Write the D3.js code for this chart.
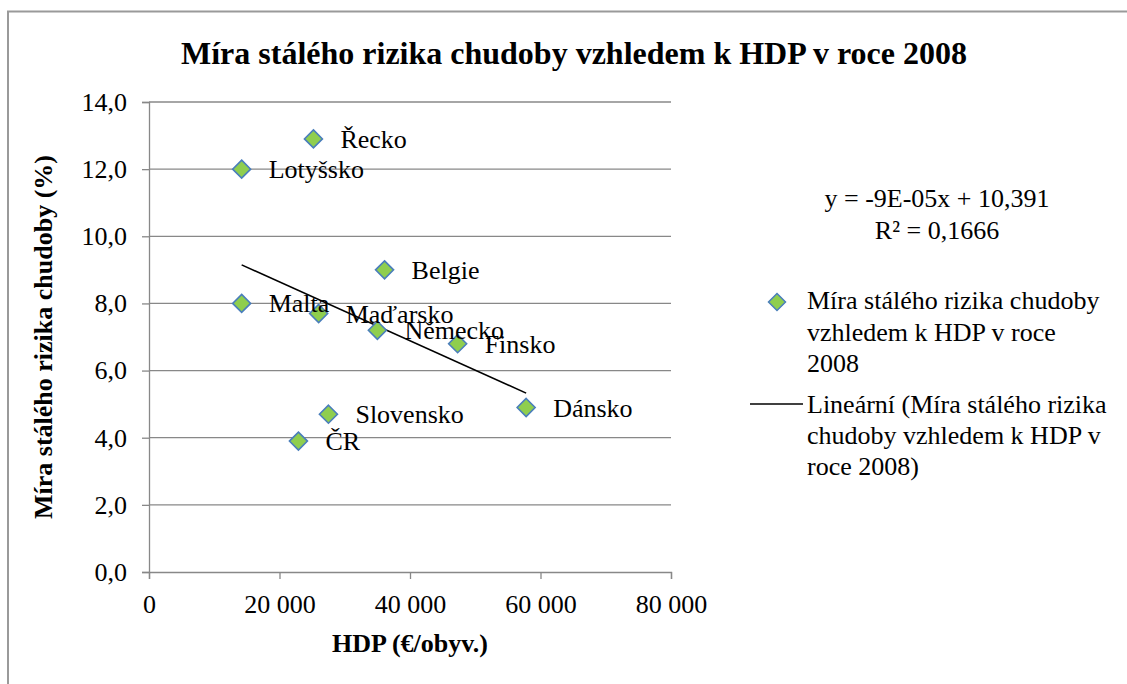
<!DOCTYPE html>
<html><head><meta charset="utf-8">
<script src="https://cdn.jsdelivr.net/npm/d3@7"></script>
</head>
<body style="margin:0;background:#fff">
<svg id="c" width="1127" height="684" style="display:block"></svg>
<script>
const countries = ["Řecko","Lotyšsko","Belgie","Malta","Maďarsko","Německo","Finsko","Dánsko","Slovensko","ČR"];
const gdp = [25200,14200,36100,14200,26000,35000,47300,57800,27500,22900];
const poverty = [12.9,12.0,9.0,8.0,7.7,7.2,6.8,4.9,4.7,3.9];
const xTicks = [0,20000,40000,60000,80000];
const yTicks = [0,2,4,6,8,10,12,14];
const title = "Míra stálého rizika chudoby vzhledem k HDP v roce 2008";
const xTitle = "HDP (€/obyv.)";
const yTitle = "Míra stálého rizika chudoby (%)";
const equationLines = ["y = -9E-05x + 10,391","R² = 0,1666"];
const legendSeries = ["Míra stálého rizika chudoby","vzhledem k HDP v roce","2008"];
const legendTrend = ["Lineární (Míra stálého rizika","chudoby vzhledem k HDP v","roce 2008)"];

const FONT = "Liberation Serif";
const FS = 26;
const svg = d3.select("#c").attr("font-family",FONT);
svg.append("rect").attr("width",1127).attr("height",684).attr("fill","#fff");
svg.append("path").attr("d","M8,684 L8,11.5 L1127,11.5").attr("fill","none").attr("stroke","#9a9a9a").attr("stroke-width",2);

const x = d3.scaleLinear().domain([0,80000]).range([149,671]);
const y = d3.scaleLinear().domain([0,14]).range([572,102]);
const grid = "#888";

svg.append("g").selectAll("line").data(yTicks.filter(d=>d>0)).join("line")
  .attr("x1",x(0)).attr("x2",x(80000)).attr("y1",d=>y(d)).attr("y2",d=>y(d))
  .attr("stroke",grid).attr("stroke-width",1.3);

const fmtX = d => d===0 ? "0" : d3.format(",")(d).replace(/,/g," ");
const fmtY = d => d.toFixed(1).replace(".",",");

const xAxis = svg.append("g").attr("transform",`translate(0,${y(0)})`)
  .call(d3.axisBottom(x).tickValues(xTicks).tickFormat(fmtX).tickSize(7).tickPadding(16));
const yAxis = svg.append("g").attr("transform",`translate(${x(0)},0)`)
  .call(d3.axisLeft(y).tickValues(yTicks).tickFormat(fmtY).tickSize(7).tickPadding(15));
[xAxis,yAxis].forEach(a=>{
  a.attr("font-family",FONT).attr("font-size",FS);
  a.select(".domain").attr("stroke",grid).attr("stroke-width",1.3);
  a.selectAll(".tick line").attr("stroke",grid).attr("stroke-width",1.3);
  a.selectAll(".tick text").attr("fill","#000");
});

// trendline (least squares fit of the data)
const mx = d3.mean(gdp), my = d3.mean(poverty);
let sxy=0,sxx=0;
gdp.forEach((g,i)=>{sxy+=(g-mx)*(poverty[i]-my);sxx+=(g-mx)**2;});
const slope = sxy/sxx, icpt = my - slope*mx;
const x0 = d3.min(gdp), x1 = d3.max(gdp);
svg.append("line").attr("x1",x(x0)).attr("y1",y(icpt+slope*x0)).attr("x2",x(x1)).attr("y2",y(icpt+slope*x1))
  .attr("stroke","#000").attr("stroke-width",1.6);

const diamond = (cx,cy,r)=>`M${cx},${cy-r} L${cx+r},${cy} L${cx},${cy+r} L${cx-r},${cy} Z`;
const pts = countries.map((c,i)=>({c,x:gdp[i],y:poverty[i]}));
svg.append("g").selectAll("path").data(pts).join("path")
  .attr("d",d=>diamond(x(d.x),y(d.y),9))
  .attr("fill","#8fce4e").attr("stroke","#4a7ebb").attr("stroke-width",1.6);

svg.append("g").selectAll("text").data(pts).join("text")
  .attr("x",d=>x(d.x)+27).attr("y",d=>y(d.y)+9)
  .attr("font-size",FS).text(d=>d.c);

svg.append("text").attr("x",574).attr("y",64).attr("text-anchor","middle")
  .attr("font-size",32).attr("font-weight","bold").text(title);
svg.append("text").attr("x",410).attr("y",652).attr("text-anchor","middle")
  .attr("font-size",FS).attr("font-weight","bold").text(xTitle);
svg.append("text").attr("transform","translate(52,337) rotate(-90)").attr("text-anchor","middle")
  .attr("font-size",FS).attr("font-weight","bold").text(yTitle);

svg.append("g").selectAll("text").data(equationLines).join("text")
  .attr("x",937).attr("y",(d,i)=>207+i*32).attr("text-anchor","middle")
  .attr("font-size",FS).text(d=>d);

svg.append("path").attr("d",diamond(777,302,8.5)).attr("fill","#8fce4e").attr("stroke","#4a7ebb").attr("stroke-width",1.5);
svg.append("g").selectAll("text").data(legendSeries).join("text")
  .attr("x",807).attr("y",(d,i)=>309+i*31.5).attr("font-size",FS).text(d=>d);
svg.append("line").attr("x1",750).attr("x2",803).attr("y1",404).attr("y2",404).attr("stroke","#000").attr("stroke-width",1.5);
svg.append("g").selectAll("text").data(legendTrend).join("text")
  .attr("x",807).attr("y",(d,i)=>413+i*31).attr("font-size",FS).text(d=>d);
</script></body></html>
